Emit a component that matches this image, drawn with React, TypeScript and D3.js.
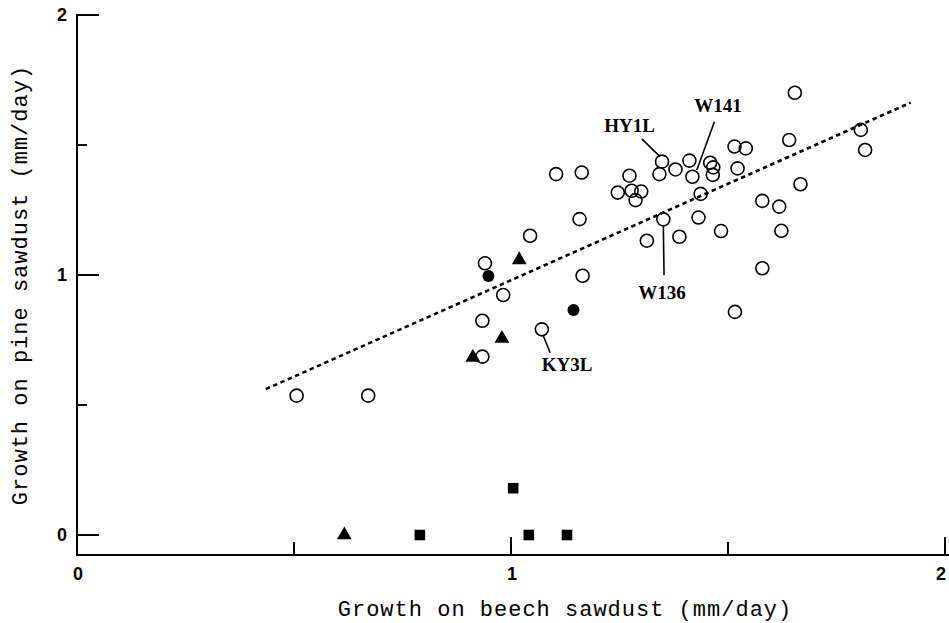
import React from 'react';
import * as d3 from 'd3';

const W = 949;
const H = 623;

// Open circles (isolates)
const openX = [0.506, 0.671, 0.94, 0.982, 0.934, 0.934, 1.044, 1.071, 1.104, 1.163, 1.158, 1.165, 1.246, 1.273, 1.278, 1.3, 1.287, 1.342, 1.348, 1.379, 1.411, 1.418, 1.459, 1.466, 1.465, 1.515, 1.541, 1.522, 1.437, 1.351, 1.432, 1.388, 1.313, 1.484, 1.516, 1.579, 1.618, 1.623, 1.579, 1.641, 1.654, 1.667, 1.806, 1.816];
const openY = [0.536, 0.536, 1.045, 0.923, 0.824, 0.686, 1.151, 0.791, 1.388, 1.394, 1.215, 0.997, 1.317, 1.382, 1.324, 1.321, 1.288, 1.388, 1.436, 1.406, 1.44, 1.378, 1.432, 1.414, 1.385, 1.494, 1.487, 1.41, 1.312, 1.214, 1.221, 1.147, 1.132, 1.169, 0.858, 1.285, 1.263, 1.17, 1.026, 1.519, 1.701, 1.349, 1.558, 1.481];

const filledX = [0.948, 1.144];
const filledY = [0.996, 0.865];

const triangleX = [1.019, 0.979, 0.912, 0.616];
const triangleY = [1.058, 0.756, 0.683, 0];

const squareX = [0.79, 1.005, 1.041, 1.129];
const squareY = [0, 0.18, 0, 0];

const trendX = [0.435, 1.921];
const trendY = [0.561, 1.663];

const labelNames = ['HY1L', 'W141', 'W136', 'KY3L'];
const labelPointIndex = [18, 21, 29, 7];

const xTicks = [0, 0.5, 1, 1.5, 2];
const yTicks = [0, 0.5, 1, 1.5, 2];
const tickLabels = ['0', '1', '2'];

const xTitle = 'Growth on beech sawdust (mm/day)';
const yTitle = 'Growth on pine sawdust (mm/day)';

// label layout (pixel offsets from the labelled point): text, leader start, leader end
const labelLayout = [
  { tx: -32.5, ty: -30, x1: -20.3, y1: -22.7, x2: -2, y2: -5 },
  { tx: 25.7, ty: -64.7, x1: 22, y1: -55, x2: 4.4, y2: -6.7 },
  { tx: -1.3, ty: 79.7, x1: 0, y1: 6.4, x2: 0.7, y2: 55.7 },
  { tx: 25.3, ty: 41.7, x1: 1.6, y1: 6.7, x2: 8.3, y2: 23.4 },
];

export default function App() {
  const x = d3.scaleLinear().domain([0, 2]).range([77, 945]);
  const y = d3.scaleLinear().domain([0, 2]).range([535, 15]);
  const axisY = 555;
  const axisX = 77;

  const tri = d3.symbol(d3.symbolTriangle, 95)() as string;
  const sq = d3.symbol(d3.symbolSquare, 112)() as string;
  const trendLine = d3.line<number>()((trendX.map((v, i) => [x(v), y(trendY[i])]) as any)) as string;

  const mono = '"Liberation Mono", "DejaVu Sans Mono", monospace';
  const sans = '"Liberation Sans", Arial, sans-serif';
  const serif = '"Liberation Serif", "Times New Roman", serif';

  return (
    <svg width={W} height={H} style={{ position: 'fixed', left: 0, top: 0, background: '#fff' }}>
      <rect width={W} height={H} fill="#fff" />
      {/* axes */}
      <line x1={axisX} y1={y(2) - 1} x2={axisX} y2={axisY} stroke="#000" strokeWidth={2} />
      <line x1={axisX - 1} y1={axisY} x2={W} y2={axisY} stroke="#000" strokeWidth={2} />
      {yTicks.map((v, i) => (
        <line key={'yt' + i} x1={axisX} x2={axisX + (v % 1 === 0 ? 22 : 10)} y1={y(v)} y2={y(v)} stroke="#000" strokeWidth={2} />
      ))}
      {xTicks.filter((v) => v > 0).map((v, i) => (
        <line key={'xt' + i} x1={x(v)} x2={x(v)} y1={axisY} y2={axisY - (v % 1 === 0 ? 18 : 13)} stroke="#000" strokeWidth={2} />
      ))}
      {tickLabels.map((t, i) => (
        <text key={'yl' + i} x={67} y={y(i)} textAnchor="end" dominantBaseline="central" fontFamily={sans} fontWeight="bold" fontSize={18} fill="#000">{t}</text>
      ))}
      {tickLabels.map((t, i) => (
        <text key={'xl' + i} x={Math.min(x(i) + 1, W - 8)} y={574} textAnchor="middle" dominantBaseline="central" fontFamily={sans} fontWeight="bold" fontSize={18} fill="#000">{t}</text>
      ))}
      <text x={565} y={616} textAnchor="middle" fontFamily={mono} fontSize={22} letterSpacing={1} fill="#000">{xTitle}</text>
      <text transform={`translate(27,285) rotate(-90)`} textAnchor="middle" fontFamily={mono} fontSize={22} letterSpacing={1} fill="#000">{yTitle}</text>

      {/* trend line */}
      <path d={trendLine} fill="none" stroke="#000" strokeWidth={2.6} strokeDasharray="4.5,3.5" />

      {/* open circles */}
      {openX.map((v, i) => (
        <circle key={'o' + i} cx={x(v)} cy={y(openY[i])} r={6.5} fill="none" stroke="#000" strokeWidth={1.6} />
      ))}
      {filledX.map((v, i) => (
        <circle key={'f' + i} cx={x(v)} cy={y(filledY[i])} r={6} fill="#000" />
      ))}
      {triangleX.map((v, i) => (
        <path key={'t' + i} d={tri} transform={`translate(${x(v)},${y(triangleY[i])})`} fill="#000" />
      ))}
      {squareX.map((v, i) => (
        <path key={'s' + i} d={sq} transform={`translate(${x(v)},${y(squareY[i])})`} fill="#000" />
      ))}

      {/* labels */}
      {labelNames.map((name, i) => {
        const px = x(openX[labelPointIndex[i]]);
        const py = y(openY[labelPointIndex[i]]);
        const L = labelLayout[i];
        return (
          <g key={'lab' + i}>
            <line x1={px + L.x1} y1={py + L.y1} x2={px + L.x2} y2={py + L.y2} stroke="#000" strokeWidth={1.6} />
            <text x={px + L.tx} y={py + L.ty} textAnchor="middle" fontFamily={serif} fontWeight="bold" fontSize={19} fill="#000">{name}</text>
          </g>
        );
      })}
    </svg>
  );
}
